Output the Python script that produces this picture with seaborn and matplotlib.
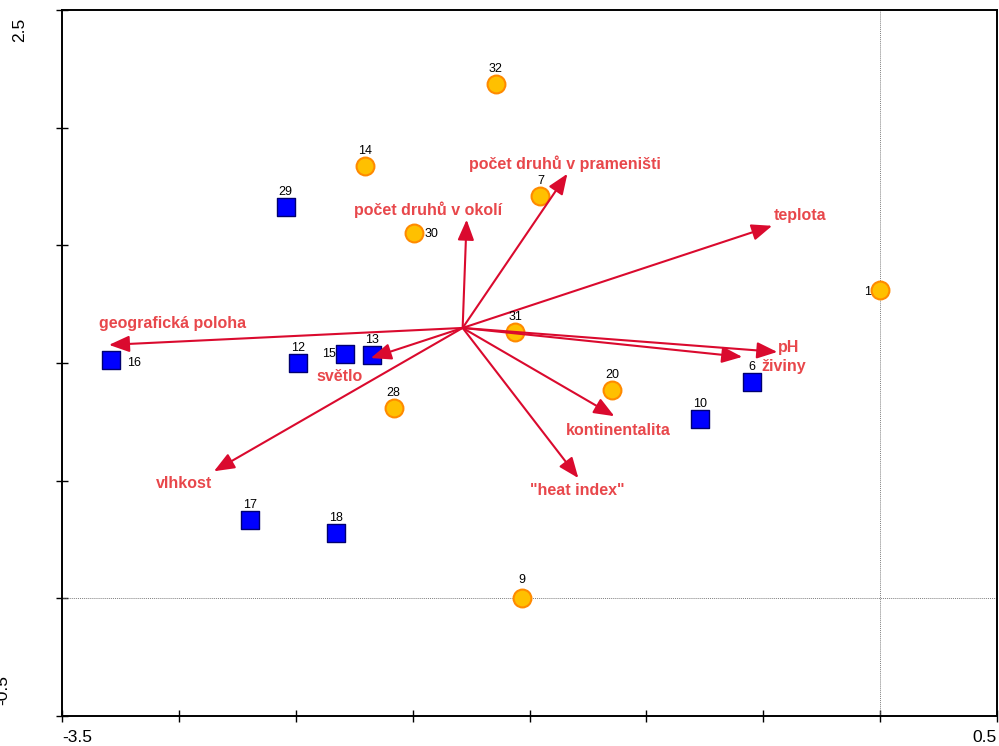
import matplotlib
matplotlib.use("Agg")
import matplotlib.pyplot as plt
import numpy as np
import pandas as pd
import seaborn as sns

# --- sample scores -------------------------------------------------------
sample_ids = ["32", "14", "7", "30", "1", "31", "20", "28", "9",
              "29", "16", "12", "15", "13", "6", "10", "17", "18"]
sample_x = [-1.645, -2.205, -1.453, -1.996, 0.000, -1.560, -1.145, -2.081, -1.534,
            -2.543, -3.291, -2.491, -2.291, -2.175, -0.547, -0.769, -2.697, -2.329]
sample_y = [2.187, 1.838, 1.711, 1.553, 1.311, 1.132, 0.885, 0.809, 0.000,
            1.664, 1.013, 1.000, 1.038, 1.034, 0.919, 0.762, 0.332, 0.277]
sample_group = ["A"] * 9 + ["B"] * 9

# --- environmental vectors ----------------------------------------------
vector_origin = (-1.786, 1.149)
vector_names = ["počet druhů v prameništi", "počet druhů v okolí", "teplota",
                "geografická poloha", "světlo", "pH", "živiny",
                "kontinentalita", "\"heat index\"", "vlhkost"]
vector_x = [-1.338, -1.769, -0.462, -3.299, -2.179, -0.440, -0.590, -1.137, -1.291, -2.850]
vector_y = [1.804, 1.609, 1.583, 1.077, 1.021, 1.047, 1.026, 0.774, 0.511, 0.540]

# axis ticks
x_ticks = [-3.5, -3.0, -2.5, -2.0, -1.5, -1.0, -0.5, 0.0, 0.5]
y_ticks = [-0.5, 0.0, 0.5, 1.0, 1.5, 2.0, 2.5]

df = pd.DataFrame({"id": sample_ids, "x": sample_x, "y": sample_y, "group": sample_group})

sns.set_theme(style="white")
plt.rcParams["font.family"] = ["Liberation Sans", "DejaVu Sans"]
plt.rcParams["text.color"] = "black"

W, H, DPI = 999, 746, 100
fig = plt.figure(figsize=(W / DPI, H / DPI), dpi=DPI)
ax = fig.add_axes([62 / W, 30 / H, 935 / W, 706 / H])

ax.set_xlim(-3.5, 0.5)
ax.set_ylim(-0.5, 2.5)

# zero reference lines
ax.axhline(0, color="#808080", lw=0.7, ls=(0, (1, 1)), zorder=1)
ax.axvline(0, color="#808080", lw=0.7, ls=(0, (1, 1)), zorder=1)

# samples
circ = df[df.group == "A"]
sq = df[df.group == "B"]
sns.scatterplot(data=circ, x="x", y="y", marker="o", s=165, color="#FFC000",
                edgecolor="#FF8A00", linewidth=1.5, ax=ax, zorder=3, legend=False)
sns.scatterplot(data=sq, x="x", y="y", marker="s", s=170, color="#0000FF",
                edgecolor="#000070", linewidth=1.0, ax=ax, zorder=3, legend=False)

# sample labels (pixel offsets: default above the marker)
label_offsets = {"16": (23, -3, "center"), "15": (-16, 0, "center"),
                 "30": (18, -1, "center"), "1": (-13, -2, "center"),
                 "9": (0, 18, "center")}
for sid, sx, sy in zip(sample_ids, sample_x, sample_y):
    dx, dy, ha = label_offsets.get(sid, (0, 15, "center"))
    ax.annotate(sid, (sx, sy), xytext=(dx, dy), textcoords="offset pixels",
                ha=ha, va="center", fontsize=9, color="black", zorder=6)

# vectors
arrow_color = "#DA0A2E"
text_color = "#E8474B"
text_offsets = [(-2, 10), (-39, 10), (28, 10), (64, 21), (-31, -18),
                (11, 4), (41, -10), (4, -14), (-1, -12), (-30, -12)]
for name, vx, vy, (dx, dy) in zip(vector_names, vector_x, vector_y, text_offsets):
    ax.annotate("", xy=(vx, vy), xytext=vector_origin,
                arrowprops=dict(arrowstyle="-|>,head_length=0.62,head_width=0.25",
                                mutation_scale=20, color=arrow_color, lw=1.5,
                                shrinkA=0, shrinkB=0),
                zorder=5)
    ax.annotate(name, (vx, vy), xytext=(dx, dy), textcoords="offset pixels",
                ha="center", va="center", fontsize=11.5, fontweight="bold",
                color=text_color, zorder=7)

# frame and ticks
for sp in ax.spines.values():
    sp.set_visible(True)
    sp.set_color("black")
    sp.set_linewidth(1.4)
ax.set_xticks(x_ticks)
ax.set_yticks(y_ticks)
ax.set_xticklabels([])
ax.set_yticklabels([])
ax.tick_params(axis="both", which="both", direction="inout", length=9, width=1.0,
               color="black", bottom=True, left=True, top=False, right=False)
ax.set_xlabel("")
ax.set_ylabel("")
ax.grid(False)

# end tick labels
fig.text(62 / W, 1 - 738 / H, "-3.5", ha="left", va="center", fontsize=12.5, color="black")
fig.text(997 / W, 1 - 738 / H, "0.5", ha="right", va="center", fontsize=12.5, color="black")
fig.text(20 / W, 1 - 30 / H, "2.5", ha="center", va="center", rotation=90,
         fontsize=12.5, color="black")
fig.text(10 / W, 1 - 690 / H, "-0.5", ha="right", va="center", rotation=90,
         fontsize=12.5, color="black")

fig.savefig("out.png", dpi=DPI)
